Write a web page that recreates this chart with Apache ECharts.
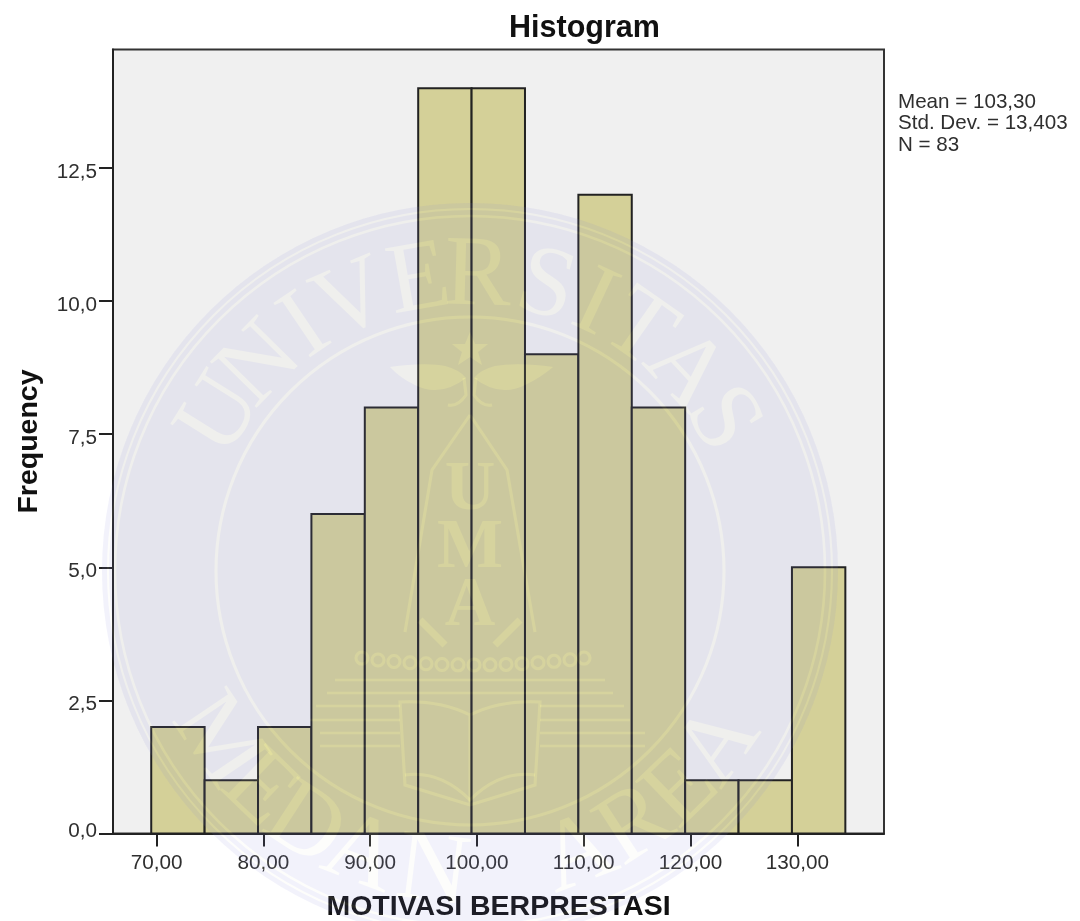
<!DOCTYPE html>
<html>
<head>
<meta charset="utf-8">
<style>html,body{margin:0;padding:0;background:#fff}#c{width:1080px;height:921px}</style>
<script src="https://cdn.jsdelivr.net/npm/echarts@6/dist/echarts.min.js"></script>
</head>
<body>
<div id="c"></div>
<script>
const binEdges = [69.5,74.5,79.5,84.5,89.5,94.5,99.5,104.5,109.5,114.5,119.5,124.5,129.5,134.5];
const frequencies = [2,1,2,6,8,14,14,9,12,8,1,1,5];
const xTicks = [70,80,90,100,110,120,130];
const yTicks = [0,2.5,5,7.5,10,12.5];
const statsLines = ['Mean = 103,30','Std. Dev. = 13,403','N = 83'];
const chartTitle = 'Histogram';
const xName = 'MOTIVASI BERPRESTASI';
const yName = 'Frequency';
const sealTop = [['U',-58],['N',-45.5],['I',-34],['V',-23.5],['E',-10],['R',1.5],['S',15],['I',25],['T',35],['A',47],['S',59]];
const sealBottom = [['M',-56],['E',-44],['D',-33],['A',-21],['N',-7],['A',21],['R',33],['E',44],['A',55]];
const sealCentre = ['U','M','A'];

const cx = 470, cy = 571, GLOW = 'rgb(11,11,0)', TINT = 'rgba(128,128,221,0.107)';
const glowText = (text, x, y, size, rot, weight) => ({
  type:'text', x, y, rotation: rot, silent:true, z:200,
  style:{text, fill:GLOW, align:'center', verticalAlign:'middle',
         font:(weight||'normal')+' '+size+'px "Liberation Serif"'}
});
const glowRing = (r, w) => ({type:'circle', silent:true, z:200, shape:{cx,cy,r},
  style:{fill:'none', stroke:GLOW, lineWidth:w, blend:'lighter'}});
let pathCount = 0;
const glowPath = (d, filled, w) => {
  const name = 'sealPath' + (pathCount++);
  echarts.graphic.registerShape(name, echarts.graphic.extendPath(d, {}));
  return {type:name, silent:true, z:200,
    style: filled ? {fill:GLOW, blend:'lighter'} : {fill:'none', stroke:GLOW, lineWidth:w||2.5, blend:'lighter'}};
};

const seal = [
  {type:'circle', silent:true, z:199, shape:{cx,cy,r:368}, style:{fill:TINT}},
  glowRing(362,2), glowRing(355,2.5), glowRing(254,3)
];
const D2R = Math.PI/180, RTOP = 293, RBOTTOM = 305;
sealTop.forEach(([t,a]) => seal.push(glowText(t, cx+RTOP*Math.sin(a*D2R), cy-RTOP*Math.cos(a*D2R), 100, -a*D2R)));
sealBottom.forEach(([t,a]) => seal.push(glowText(t, cx+RBOTTOM*Math.sin(a*D2R), cy+RBOTTOM*Math.cos(a*D2R), 100, a*D2R)));
[491,549,607].forEach((y,i) => seal.push(glowText(sealCentre[i], cx, y, 70, 0, 'bold')));
seal.push(
  glowPath('M470,332 L475,344 L488,344 L478,352 L482,365 L470,357 L458,365 L462,352 L452,344 L465,344 Z', true),
  glowPath('M390,367 Q425,362 445,366 Q460,370 466,378 Q440,398 415,385 Q400,378 390,367 Z', true),
  glowPath('M553,367 Q518,362 495,366 Q480,370 474,378 Q500,398 525,385 Q540,378 553,367 Z', true),
  glowPath('M464,378 L466,395 Q458,407 448,405 M476,378 L474,395 Q482,407 492,405', false, 3),
  glowPath('M470,415 L432,470 L405,632 M470,415 L507,470 L535,632', false, 3),
  glowPath('M335,680 H605 M327,693 H613 M316,706 H400 M540,706 H624 M310,720 H400 M540,720 H630 M320,733 H400 M540,733 H645 M320,746 H400 M540,746 H645', false, 2.5),
  glowPath('M400,702 Q440,700 470,715 Q500,700 540,702 L535,785 L470,805 L405,785 Z M470,715 V805', false, 3),
  glowPath('M405,775 Q440,770 470,800 Q500,770 535,775', false, 3),
  glowPath('M420,620 L445,645 M520,620 L495,645', false, 7)
);
[362,378,394,410,426,442,458,474,490,506,522,538,554,570,584].forEach((x,i) => {
  const y = 658 + 7 * (1 - Math.pow((x-473)/112, 2));
  seal.push({type:'circle', silent:true, z:200, shape:{cx:x, cy:y, r:6},
    style:{fill:'none', stroke:GLOW, lineWidth:3, blend:'lighter'}});
});

const textCol = '#2f2f2f';
const FONT = '"Liberation Sans", Arial, sans-serif';
const yLabelStyle = {fontFamily:FONT, fontSize:20.7, color:textCol};
const chart = echarts.init(document.getElementById('c'), null, {renderer:'canvas'});
chart.setOption({
  animation:false,
  backgroundColor:'#fff',
  title:{text:chartTitle, left:579.5, top:8, textAlign:'center',
    textStyle:{fontFamily:FONT, fontSize:30.5, fontWeight:'bold', color:'#111'}},
  grid:{left:113, top:49.5, width:771, height:784, outerBoundsMode:'none', show:true, backgroundColor:'#f0f0f0', borderColor:'#333', borderWidth:2},
  xAxis:{type:'value', min:65.92, max:138.12, splitLine:{show:false},
    name:xName, nameLocation:'middle', nameGap:59,
    nameTextStyle:{fontFamily:FONT, fontSize:28.5, fontWeight:'bold', color:'#111'},
    axisLine:{show:true, lineStyle:{color:'#222', width:2}},
    axisTick:{show:true, length:13, customValues:xTicks, lineStyle:{color:'#222', width:2}},
    axisLabel:{customValues:xTicks, margin:19, fontFamily:FONT, fontSize:20.7, color:textCol,
      formatter:v => v.toFixed(2).replace('.',',')}},
  yAxis:{type:'value', min:0, max:14.726, splitLine:{show:false},
    name:yName, nameLocation:'middle', nameGap:69,
    nameTextStyle:{fontFamily:FONT, fontSize:28.5, fontWeight:'bold', color:'#111'},
    axisLine:{show:true, lineStyle:{color:'#222', width:2}},
    axisTick:{show:true, length:14, customValues:yTicks, lineStyle:{color:'#222', width:2}},
    axisLabel:{customValues:yTicks, margin:16, fontFamily:FONT, fontSize:20.7, color:textCol,
      rich:{
        low:Object.assign({padding:[0,0,4,0]}, yLabelStyle),
        up:Object.assign({padding:[8,0,0,0]}, yLabelStyle)
      },
      formatter:v => '{' + (v === 0 ? 'low' : 'up') + '|' + v.toFixed(1).replace('.',',') + '}'}},
  graphic:{elements:[
    {type:'text', x:898, y:91.5, silent:true,
      style:{text:statsLines.join('\n'), font:'20.6px '+FONT, lineHeight:21.5, fill:textCol}},
    ...seal
  ]},
  series:[{
    type:'custom', coordinateSystem:'cartesian2d',
    encode:{x:[0,1], y:2},
    data:frequencies.map((f,i) => [binEdges[i], binEdges[i+1], f]),
    renderItem:(params, api) => {
      const a = api.coord([api.value(0), api.value(2)]);
      const b = api.coord([api.value(1), 0]);
      return {type:'rect', shape:{x:a[0], y:a[1], width:b[0]-a[0], height:b[1]-a[1]},
        style:{fill:'#d4d098', stroke:'#222', lineWidth:2}};
    }
  }]
});
// Text spans drop the blend style, so the seal's letters get it once they exist.
const zr = chart.getZr();
zr.storage.getDisplayList(true, true).forEach(el => {
  if (el.style && el.style.text && el.style.fill === GLOW) {
    el.style.blend = 'lighter';
    el.dirty();
  }
});
zr.refreshImmediately();
</script>
</body>
</html>
